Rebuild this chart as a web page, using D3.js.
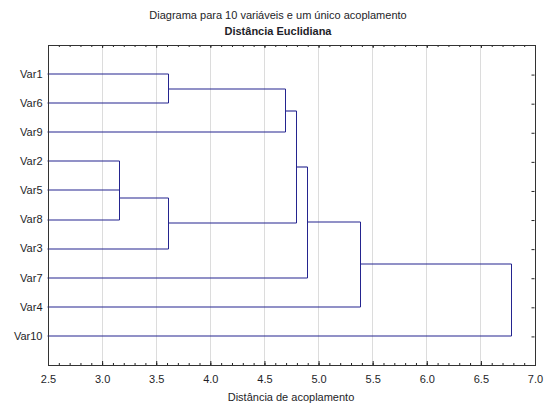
<!DOCTYPE html>
<html>
<head>
<meta charset="utf-8">
<script src="https://cdn.jsdelivr.net/npm/d3@7"></script>
<style>
  body { margin: 0; background: #fff; }
  text { font-family: "Liberation Sans", Arial, sans-serif; fill: #1e1e28; }
</style>
</head>
<body>
<svg id="chart"></svg>
<script>
// leaves in display order (top to bottom)
const leaves = ["Var1", "Var6", "Var9", "Var2", "Var5", "Var8", "Var3", "Var7", "Var4", "Var10"];

// merge steps: C1..C9 are the clusters made by each step, in order
const joinA = ["Var1", "Var2", "C2", "C3", "C1", "C5", "C6", "C7", "C8"];
const joinB = ["Var6", "Var5", "Var8", "Var3", "Var9", "C4", "Var7", "Var4", "Var10"];
const joinDist = [3.61, 3.16, 3.16, 3.61, 4.69, 4.80, 4.90, 5.39, 6.78];

const xDomain = [2.5, 7.0];
const majorTicks = [2.5, 3.0, 3.5, 4.0, 4.5, 5.0, 5.5, 6.0, 6.5, 7.0];

const width = 544, height = 403;
const margin = { top: 45, right: 9.5, bottom: 38, left: 47.5 };

const svg = d3.select("#chart")
    .attr("width", width)
    .attr("height", height);

const x = d3.scaleLinear()
    .domain(xDomain)
    .range([margin.left, width - margin.right]);

const y = d3.scalePoint()
    .domain(leaves)
    .range([margin.top, height - margin.bottom])
    .padding(1);

const lineColor = "#24248f";

// vertical grid
svg.append("g")
    .selectAll("line")
    .data(majorTicks.slice(1, -1))
    .enter().append("line")
    .attr("x1", d => Math.round(x(d)) + 0.5)
    .attr("x2", d => Math.round(x(d)) + 0.5)
    .attr("y1", margin.top)
    .attr("y2", height - margin.bottom)
    .style("stroke", "#dcdcdc")
    .style("stroke-width", 1);

// position of each node (leaf or cluster)
const pos = {};
leaves.forEach(l => { pos[l] = { x: x(xDomain[0]), y: y(l) }; });

const hSegs = [], vSegs = [];
joinA.forEach((a, i) => {
    const b = joinB[i];
    const mx = Math.round(x(joinDist[i])) + 0.5;
    const pa = pos[a], pb = pos[b];
    hSegs.push([pa.x, pa.y, mx]);
    hSegs.push([pb.x, pb.y, mx]);
    vSegs.push([mx, pa.y, pb.y]);
    pos["C" + (i + 1)] = { x: mx, y: Math.round((pa.y + pb.y) / 2) };
});

// horizontal links sit between pixel rows, like the original (a bit soft)
svg.append("g")
    .selectAll("line")
    .data(hSegs)
    .enter().append("line")
    .attr("x1", d => d[0])
    .attr("x2", d => d[2])
    .attr("y1", d => Math.round(d[1]))
    .attr("y2", d => Math.round(d[1]))
    .style("stroke", lineColor)
    .style("stroke-width", 1.1);

svg.append("g")
    .selectAll("line")
    .data(vSegs)
    .enter().append("line")
    .attr("x1", d => d[0])
    .attr("x2", d => d[0])
    .attr("y1", d => Math.round(d[1]))
    .attr("y2", d => Math.round(d[2]))
    .style("stroke", lineColor)
    .style("stroke-width", 1);

// axes: ticks point inward
const minorTicks = d3.range(25, 71).map(v => v / 10);
const bottomY = height - margin.bottom;

function styleAxis(g) {
    g.select(".domain").remove();
    g.selectAll(".tick line").style("stroke", "#222");
}

svg.append("g")
    .attr("transform", `translate(0.5,${bottomY})`)
    .call(d3.axisBottom(x).tickValues(minorTicks).tickSize(-2).tickFormat(""))
    .call(styleAxis);

svg.append("g")
    .attr("transform", `translate(0.5,${bottomY})`)
    .call(d3.axisBottom(x).tickValues(majorTicks).tickSize(-4).tickPadding(10).tickFormat(d3.format(".1f")))
    .call(styleAxis)
    .selectAll("text")
    .style("font-size", "11px")
    .style("fill", "#1e1e28");

svg.append("g")
    .attr("transform", `translate(0.5,${margin.top})`)
    .call(d3.axisTop(x).tickValues(minorTicks).tickSize(-2).tickFormat(""))
    .call(styleAxis);

svg.append("g")
    .attr("transform", `translate(0.5,${margin.top})`)
    .call(d3.axisTop(x).tickValues(majorTicks).tickSize(-3).tickFormat(""))
    .call(styleAxis);

svg.append("g")
    .attr("transform", `translate(${width - margin.right},0.5)`)
    .call(d3.axisRight(y).tickSize(-3).tickFormat(""))
    .call(styleAxis);

// leaf labels
svg.append("g")
    .selectAll("text")
    .data(leaves)
    .enter().append("text")
    .attr("x", margin.left - 5)
    .attr("y", d => y(d))
    .attr("dy", "0.35em")
    .attr("text-anchor", "end")
    .style("font-size", "11px")
    .text(d => d);

// frame
svg.append("rect")
    .attr("x", Math.round(margin.left) + 0.5)
    .attr("y", margin.top + 0.5)
    .attr("width", Math.round(width - margin.right) - Math.round(margin.left))
    .attr("height", height - margin.bottom - margin.top)
    .attr("fill", "none")
    .style("stroke", "#333")
    .style("stroke-width", 1);

// titles
svg.append("text")
    .attr("x", 278)
    .attr("y", 19)
    .attr("text-anchor", "middle")
    .style("font-size", "11px")
    .text("Diagrama para 10 variáveis e um único acoplamento");

svg.append("text")
    .attr("x", 278)
    .attr("y", 35)
    .attr("text-anchor", "middle")
    .style("font-size", "11px")
    .style("font-weight", "bold")
    .text("Distância Euclidiana");

svg.append("text")
    .attr("x", (x.range()[0] + x.range()[1]) / 2)
    .attr("y", 401)
    .attr("text-anchor", "middle")
    .style("font-size", "11px")
    .text("Distância de acoplamento");
</script>
</body>
</html>
